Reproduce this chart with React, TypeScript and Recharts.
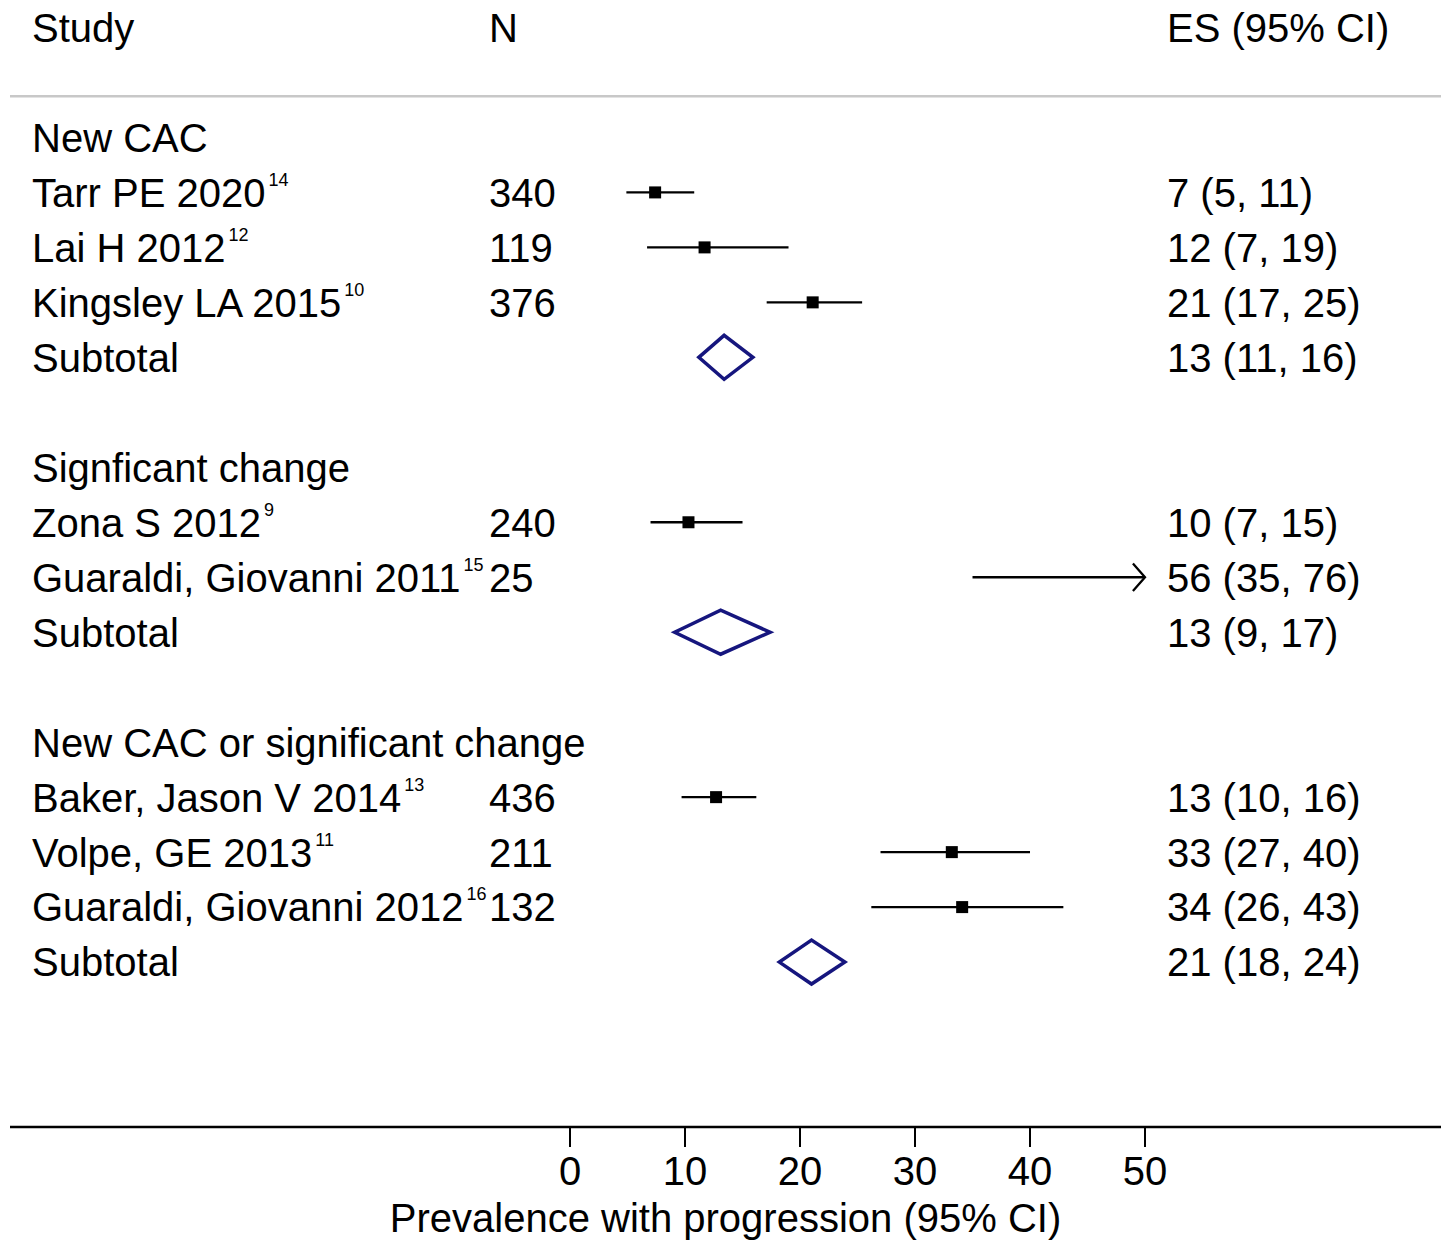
import React from "react";
import {
  ScatterChart,
  Scatter,
  XAxis,
  YAxis,
  ReferenceLine,
} from "recharts";

// Study-level estimates, grouped by outcome definition
const groupTitles = [
  "New CAC",
  "Signficant change",
  "New CAC or significant change",
];
const studyNames = [
  "Tarr PE 2020",
  "Lai H 2012",
  "Kingsley LA 2015",
  "Zona S 2012",
  "Guaraldi, Giovanni 2011",
  "Baker, Jason V 2014",
  "Volpe, GE 2013",
  "Guaraldi, Giovanni 2012",
];
const studyRefs = ["14", "12", "10", "9", "15", "13", "11", "16"];
const studyGroup = [0, 0, 0, 1, 1, 2, 2, 2];
const studyN = [340, 119, 376, 240, 25, 436, 211, 132];
const studyES = [7.4, 11.7, 21.1, 10.3, 56, 12.7, 33.2, 34.1];
const studyLo = [4.9, 6.7, 17.1, 7.0, 35.0, 9.7, 27.0, 26.2];
const studyHi = [10.8, 19.0, 25.4, 15.0, 76.0, 16.2, 40.0, 42.9];

// Pooled estimates per group
const subtotalES = [13.4, 13.1, 21.0];
const subtotalLo = [11.2, 9.1, 18.2];
const subtotalHi = [15.9, 17.4, 23.9];

const xTicks = [0, 10, 20, 30, 40, 50];

const FONT = '"Liberation Sans", Arial, Helvetica, sans-serif';
const NAVY = "#16167e";
const X_MIN = -48.7;
const X_MAX = 75.74;
const CLIP = 50; // CIs beyond the last tick get an arrow
const HEADER_ROW = -2;

type Row = {
  kind: "title" | "study" | "subtotal" | "blank";
  label?: string;
  ref?: string;
  n?: number;
  es?: number;
  lo?: number;
  hi?: number;
};

const rows: Row[] = [];
groupTitles.forEach((title, g) => {
  if (g > 0) rows.push({ kind: "blank" });
  rows.push({ kind: "title", label: title });
  studyNames.forEach((name, i) => {
    if (studyGroup[i] !== g) return;
    rows.push({
      kind: "study",
      label: name,
      ref: studyRefs[i],
      n: studyN[i],
      es: studyES[i],
      lo: studyLo[i],
      hi: studyHi[i],
    });
  });
  rows.push({
    kind: "subtotal",
    label: "Subtotal",
    es: subtotalES[g],
    lo: subtotalLo[g],
    hi: subtotalHi[g],
  });
});

const fmt = (v: number) => String(Math.round(v));
const esText = (r: Row) => `${fmt(r.es!)} (${fmt(r.lo!)}, ${fmt(r.hi!)})`;

const studyRows = rows
  .map((r, i) => ({ ...r, y: i }))
  .filter((r) => r.kind === "study");
const squares = studyRows
  .filter((r) => r.es! <= CLIP)
  .map((r) => ({ x: r.es!, y: r.y }));
const arrows = studyRows.filter((r) => r.hi! > CLIP);

const diamonds = rows
  .map((r, i) => ({ ...r, y: i }))
  .filter((r) => r.kind === "subtotal")
  .map((r) => [
    { x: r.lo!, y: r.y },
    { x: r.es!, y: r.y - 0.4 },
    { x: r.hi!, y: r.y },
    { x: r.es!, y: r.y + 0.4 },
    { x: r.lo!, y: r.y },
    { x: r.es!, y: r.y - 0.4 },
  ]);

const COL_STUDY = 32;
const COL_N = 489;
const COL_ES = 1167;
const TEXT_SIZE = 40;

function RowTick(props: any) {
  const { y, payload } = props;
  const txt = {
    fontFamily: FONT,
    fontSize: TEXT_SIZE,
    fill: "#000",
    dy: "0.36em",
  };
  if (payload.value === HEADER_ROW) {
    return (
      <g>
        <text x={COL_STUDY} y={y} {...txt}>Study</text>
        <text x={COL_N} y={y} {...txt}>N</text>
        <text x={COL_ES} y={y} {...txt}>ES (95% CI)</text>
      </g>
    );
  }
  const r = rows[payload.value];
  if (!r || r.kind === "blank") return <g />;
  return (
    <g>
      <text x={COL_STUDY} y={y} {...txt}>
        {r.label}
        {r.ref && (
          <tspan fontSize={18} dx={3} dy={-21}>
            {r.ref}
          </tspan>
        )}
      </text>
      {r.n !== undefined && (
        <text x={COL_N} y={y} {...txt}>{r.n}</text>
      )}
      {r.es !== undefined && (
        <text x={COL_ES} y={y} {...txt}>{esText(r)}</text>
      )}
    </g>
  );
}

const Square = (p: any) => (
  <rect x={p.cx - 6} y={p.cy - 6} width={12} height={12} fill="#000" />
);
const NoShape = () => <g />;

export default function App() {
  const rowTicks = [HEADER_ROW, ...rows.map((_, i) => i)];
  return (
    <div
      style={{
        position: "absolute",
        left: 0,
        top: 0,
        background: "#fff",
        fontFamily: FONT,
      }}
    >
      <ScatterChart
        width={1441}
        height={1241}
        margin={{ top: 0, right: 0, bottom: 0, left: 0 }}
      >
        <XAxis
          type="number"
          dataKey="x"
          domain={[X_MIN, X_MAX]}
          allowDataOverflow
          ticks={xTicks}
          interval={0}
          height={114}
          tickSize={20}
          tickMargin={10}
          axisLine={{ stroke: "#000", strokeWidth: 2.5 }}
          tickLine={{ stroke: "#000", strokeWidth: 2 }}
          tick={{ fill: "#000", fontSize: TEXT_SIZE, fontFamily: FONT }}
          label={{
            value: "Prevalence with progression (95% CI)",
            position: "insideBottom",
            offset: 9,
            fill: "#000",
            fontSize: TEXT_SIZE,
            fontFamily: FONT,
          }}
        />
        <YAxis
          type="number"
          dataKey="y"
          domain={[-2.5, 18]}
          allowDataOverflow
          reversed
          width={10}
          ticks={rowTicks}
          interval={0}
          axisLine={false}
          tickLine={false}
          tick={(p: any) => <RowTick {...p} />}
        />
        <ReferenceLine y={-0.75} stroke="#c8c8c8" strokeWidth={2.5} />
        {studyRows.map((r) => (
          <ReferenceLine
            key={`ci-${r.y}`}
            segment={[
              { x: r.lo!, y: r.y },
              { x: Math.min(r.hi!, CLIP), y: r.y },
            ]}
            stroke="#000"
            strokeWidth={2.3}
          />
        ))}
        {arrows.map((r) => (
          <Scatter
            key={`arrow-${r.y}`}
            data={[
              { x: CLIP - 1.05, y: r.y - 0.25 },
              { x: CLIP, y: r.y },
              { x: CLIP - 1.05, y: r.y + 0.25 },
            ]}
            line={{ stroke: "#000", strokeWidth: 2.3 }}
            shape={NoShape}
            legendType="none"
            isAnimationActive={false}
          />
        ))}
        <Scatter
          data={squares}
          shape={Square}
          legendType="none"
          isAnimationActive={false}
        />
        {diamonds.map((d, i) => (
          <Scatter
            key={`diamond-${i}`}
            data={d}
            line={{ stroke: NAVY, strokeWidth: 3.5 }}
            shape={NoShape}
            legendType="none"
            isAnimationActive={false}
          />
        ))}
      </ScatterChart>
    </div>
  );
}
